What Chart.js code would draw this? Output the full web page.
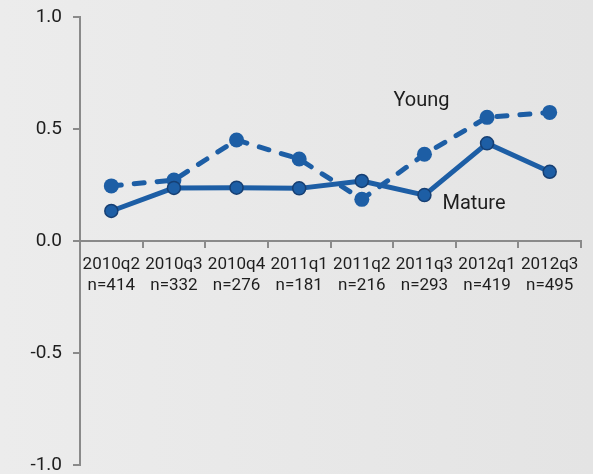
<!DOCTYPE html>
<html lang="en">
<head>
    <meta charset="UTF-8">
    <title>Young vs Mature</title>
    <script src="https://cdn.jsdelivr.net/npm/chart.js"></script>
    <style>
        html, body {
            margin: 0;
            padding: 0;
        }
        body {
            width: 593px;
            height: 474px;
            background: linear-gradient(to right, #ececec, #e4e4e4);
            overflow: hidden;
        }
        .wrap {
            position: relative;
            width: 593px;
            height: 474px;
        }
    </style>
</head>
<body>
    <div class="wrap">
        <canvas id="trendChart"></canvas>
    </div>

    <script>
        // data
        const quarters = ['2010q2', '2010q3', '2010q4', '2011q1', '2011q2', '2011q3', '2012q1', '2012q3'];
        const sampleSizes = ['n=414', 'n=332', 'n=276', 'n=181', 'n=216', 'n=293', 'n=419', 'n=495'];
        const matureValues = [0.134, 0.237, 0.238, 0.235, 0.268, 0.205, 0.436, 0.309];
        const youngValues = [0.246, 0.272, 0.451, 0.366, 0.186, 0.387, 0.552, 0.574];
        const yTicks = [-1.0, -0.5, 0.0, 0.5, 1.0];

        const blue = '#1d5ea5';
        const darkBlue = '#163f73';
        const axisGray = '#8a8a8a';
        const textColor = '#1e1e1e';

        // series names written next to the lines, placed by data value
        const seriesLabels = {
            id: 'seriesLabels',
            afterDatasetsDraw(chart) {
                const {ctx, scales: {x, y}} = chart;
                ctx.save();
                ctx.font = '20px Roboto';
                ctx.fillStyle = textColor;
                ctx.textBaseline = 'middle';
                ctx.textAlign = 'center';
                ctx.fillText('Young', x.getPixelForValue(5) - 3, y.getPixelForValue(0.625));
                ctx.textAlign = 'left';
                ctx.fillText('Mature', x.getPixelForValue(5) + 18, y.getPixelForValue(0.165));
                ctx.restore();
            }
        };

        const ctx = document.getElementById('trendChart').getContext('2d');
        new Chart(ctx, {
            type: 'line',
            data: {
                labels: quarters.map((q, i) => [q, sampleSizes[i]]),
                datasets: [{
                    label: 'Mature',
                    data: matureValues,
                    borderColor: blue,
                    backgroundColor: blue,
                    borderWidth: 5,
                    borderJoinStyle: 'round',
                    pointRadius: 6.5,
                    pointBorderWidth: 1.5,
                    pointBorderColor: darkBlue,
                    pointBackgroundColor: blue,
                    tension: 0
                }, {
                    label: 'Young',
                    data: youngValues,
                    borderColor: blue,
                    backgroundColor: blue,
                    borderWidth: 5,
                    borderDash: [10, 13],
                    borderCapStyle: 'round',
                    borderJoinStyle: 'round',
                    pointRadius: 7.5,
                    pointBorderWidth: 0,
                    pointBackgroundColor: blue,
                    tension: 0
                }]
            },
            options: {
                responsive: true,
                maintainAspectRatio: false,
                animation: false,
                layout: {
                    padding: {top: 17, right: 12, bottom: 9, left: 0}
                },
                scales: {
                    x: {
                        position: {y: 0},
                        offset: true,
                        grid: {
                            offset: true,
                            drawOnChartArea: false,
                            drawTicks: true,
                            tickLength: 6,
                            color: axisGray,
                            lineWidth: 2
                        },
                        border: {color: axisGray, width: 2},
                        ticks: {
                            color: textColor,
                            font: {family: 'Roboto', size: 17, lineHeight: 1.2},
                            padding: 8,
                            maxRotation: 0,
                            autoSkip: false
                        }
                    },
                    y: {
                        min: yTicks[0],
                        max: yTicks[yTicks.length - 1],
                        afterBuildTicks: (scale) => {
                            scale.ticks = yTicks.map(v => ({value: v}));
                        },
                        afterFit: (scale) => {
                            // fixed axis width, and let layout.padding decide the top/bottom
                            scale.width = 80;
                            scale.paddingTop = 0;
                            scale.paddingBottom = 0;
                        },
                        grid: {
                            drawOnChartArea: false,
                            drawTicks: true,
                            tickLength: 7,
                            color: axisGray,
                            lineWidth: 2
                        },
                        border: {color: axisGray, width: 2},
                        ticks: {
                            color: textColor,
                            font: {family: 'Roboto', size: 19, lineHeight: 1},
                            padding: 11,
                            callback: (v) => Number(v).toFixed(1)
                        }
                    }
                },
                plugins: {
                    legend: {display: false},
                    tooltip: {enabled: false}
                }
            },
            plugins: [seriesLabels]
        });
    </script>
</body>
</html>
